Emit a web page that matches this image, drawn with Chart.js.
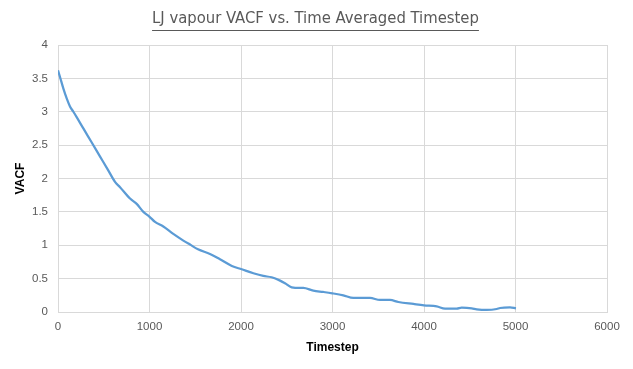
<!DOCTYPE html>
<html><head><meta charset="utf-8">
<script src="https://cdn.jsdelivr.net/npm/chart.js@4/dist/chart.umd.min.js"></script>
<style>html,body{margin:0;padding:0;background:#fff}#wrap{width:633px;height:369px}</style>
</head><body><div id="wrap"><canvas id="c" width="633" height="369"></canvas></div>
<script>
const titleText = "LJ vapour VACF vs. Time Averaged Timestep";
const xAxisTitle = "Timestep";
const yAxisTitle = "VACF";
const timesteps = [0,22,58,95,131,168,204,277,364,455,546,623,678,787,860,933,998,1060,1151,1260,1370,1443,1530,1661,1770,1900,2007,2135,2244,2335,2427,2481,2554,2645,2681,2790,2900,2998,3118,3228,3410,3519,3628,3720,3884,4000,4139,4230,4358,4412,4522,4576,4685,4795,4831,4940,5005];
const vacf = [3.62,3.52,3.35,3.20,3.08,3.00,2.92,2.75,2.55,2.34,2.13,1.95,1.87,1.70,1.62,1.50,1.43,1.35,1.28,1.17,1.07,1.01,0.94,0.87,0.79,0.69,0.64,0.58,0.54,0.52,0.47,0.43,0.37,0.36,0.36,0.32,0.30,0.28,0.25,0.21,0.21,0.18,0.18,0.15,0.12,0.10,0.085,0.05,0.05,0.065,0.055,0.04,0.03,0.045,0.06,0.07,0.055];

const titleFont = {family: 'DejaVu Sans Condensed, Liberation Sans, sans-serif', size: 16.5, weight: 'normal'};

const underline = {
  id: 'underline',
  afterDraw(chart) {
    const t = chart.titleBlock;
    if (!t) return;
    const ctx = chart.ctx;
    ctx.save();
    ctx.font = `${titleFont.size}px ${titleFont.family}`;
    const w = ctx.measureText(titleText).width;
    const cx = t.left + t.width / 2;
    ctx.strokeStyle = '#595959';
    ctx.lineWidth = 1;
    ctx.beginPath();
    ctx.moveTo(cx - w / 2, 30.5);
    ctx.lineTo(cx + w / 2, 30.5);
    ctx.stroke();
    ctx.restore();
  }
};

new Chart(document.getElementById('c'), {
  type: 'line',
  data: {
    datasets: [{
      data: timesteps.map((t, i) => ({x: t, y: vacf[i]})),
      borderColor: '#5b9bd5',
      borderWidth: 2.25,
      pointRadius: 0,
      cubicInterpolationMode: 'monotone',
      fill: false
    }]
  },
  options: {
    responsive: false,
    animation: false,
    layout: {padding: {left: 12, right: 14, top: 0, bottom: 0}},
    plugins: {
      legend: {display: false},
      tooltip: {enabled: false},
      title: {
        display: true,
        text: titleText,
        color: '#595959',
        font: titleFont,
        padding: {top: 9, bottom: 16.2}
      }
    },
    scales: {
      x: {
        type: 'linear',
        min: 0, max: 6000,
        afterFit(s) { s.height = 57; s.paddingLeft = 0; s.paddingRight = 26; },
        ticks: {stepSize: 1000, color: '#595959', padding: 8,
          font: {family: 'Liberation Sans, sans-serif', size: 11.5},
          callback: v => String(v), maxRotation: 0},
        grid: {color: '#d9d9d9', drawTicks: false},
        border: {color: '#d9d9d9'},
        title: {display: true, text: xAxisTitle, color: '#000',
          font: {family: 'Liberation Sans, sans-serif', size: 12, weight: 'bold'}, padding: {top: 0, bottom: 14}}
      },
      y: {
        min: 0, max: 4,
        afterFit(s) { s.width = 46; },
        ticks: {stepSize: 0.5, color: '#595959', padding: 10,
          font: {family: 'Liberation Sans, sans-serif', size: 11.5},
          callback: v => String(v)},
        grid: {color: '#d9d9d9', drawTicks: false},
        border: {color: '#d9d9d9'},
        title: {display: true, text: yAxisTitle, color: '#000',
          font: {family: 'Liberation Sans, sans-serif', size: 12, weight: 'bold'}, padding: {top: 1.5, bottom: 0}}
      }
    }
  },
  plugins: [underline]
});
</script></body></html>
